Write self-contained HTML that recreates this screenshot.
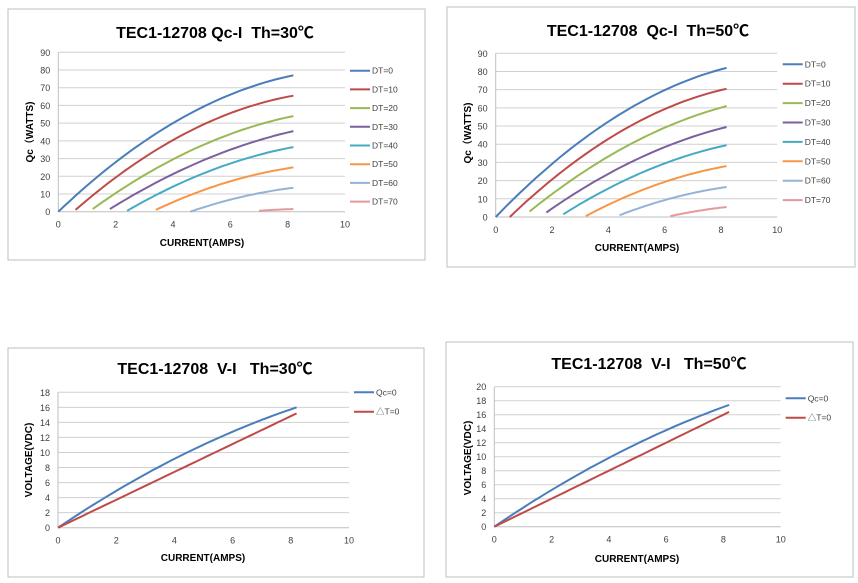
<!DOCTYPE html>
<html><head><meta charset="utf-8"><style>
html,body{margin:0;padding:0;background:#fff;width:858px;height:583px;overflow:hidden}
svg{display:block}
text{font-family:"Liberation Sans","Noto Sans CJK SC",sans-serif}
</style></head><body>
<svg id="s" width="858" height="583" xmlns="http://www.w3.org/2000/svg"></svg>
<script>
const s=document.getElementById('s');let out='';
const C=['#4a7ebb','#be4b48','#98b954','#7d60a0','#46aac5','#f79646','#95b3d7','#e6999a'];
function chart(o){
 out+=`<rect x="${o.bx}" y="${o.by}" width="${o.bw}" height="${o.bh}" fill="#fff" stroke="#bfbfbf" stroke-width="1"/>`;
 out+=`<text x="${o.tx}" y="${o.ty}" font-size="16" font-weight="bold" text-anchor="middle" fill="#000">${o.title}</text>`;
 const X=v=>o.x0+(o.x1-o.x0)*v/10, Y=v=>o.y0-(o.y0-o.y1)*v/o.ymax;
 for(let v=0;v<=o.ymax;v+=o.ystep){
  const y=Y(v);
  if(v>0) out+=`<line x1="${o.x0}" y1="${y}" x2="${o.x1}" y2="${y}" stroke="#d0d0d0" stroke-width="1"/>`;
  out+=`<text x="${o.x0-8}" y="${y+3.5}" font-size="9" text-anchor="end" fill="#404040">${v}</text>`;
 }
 out+=`<line x1="${o.x0}" y1="${o.y0}" x2="${o.x1}" y2="${o.y0}" stroke="#bfbfbf"/>`;
 out+=`<line x1="${o.x0}" y1="${o.y0}" x2="${o.x0}" y2="${o.y1}" stroke="#bfbfbf"/>`;
 for(let v=0;v<=10;v+=2) out+=`<text x="${X(v)}" y="${o.y0+16}" font-size="9" text-anchor="middle" fill="#404040">${v}</text>`;
 out+=`<text x="${o.xlx}" y="${o.xly}" font-size="10" font-weight="bold" text-anchor="middle">CURRENT(AMPS)</text>`;
 out+=`<text transform="translate(${o.ylx},${o.yly}) rotate(-90)" font-size="10" font-weight="bold" text-anchor="middle">${o.ylab}</text>`;
 o.series.forEach((sr,i)=>{
  let p='';
  for(let k=0;k<=40;k++){const I=sr.x0+(8.2-sr.x0)*k/40;const v=sr.f(I);p+=(k?'L':'M')+X(I).toFixed(1)+' '+Y(v).toFixed(1);}
  out+=`<path d="${p}" fill="none" stroke="${sr.c}" stroke-width="2"/>`;
  const ly=o.ly0+o.lstep*i;
  out+=`<line x1="${o.lx}" y1="${ly}" x2="${o.lx+20}" y2="${ly}" stroke="${sr.c}" stroke-width="2"/>`;
  out+=`<text x="${o.lx+22}" y="${ly+3}" font-size="8.5" fill="#404040">${sr.n}</text>`;
 });
}
function qc(x0,y0,ye,b){const d=8.2-x0;const m=(ye-y0-b*d*d)/d;return {x0,f:I=>ye+m*(I-8.2)-b*(I-8.2)*(I-8.2)};}
function mk(specs){return specs.map((a,i)=>{const q=qc(a[0],a[1],a[2],a[3]===undefined?0.74:a[3]);return {x0:q.x0,f:q.f,c:C[i],n:'DT='+(i*10)};});}
chart({bx:8,by:9,bw:417,bh:251,tx:215,ty:38,title:'TEC1-12708 Qc-I&#160; Th=30℃',x0:58.3,x1:345,y0:211.7,y1:52.3,ymax:90,ystep:10,
 xlx:202,xly:246,ylx:33,yly:132,ylab:'Qc（WATTS)',lx:350,ly0:70.7,lstep:18.7,
 series:mk([[0,0,77],[0.6,1,65.5],[1.2,1.5,54,0.6],[1.8,1.5,45.5,0.5],[2.4,0.5,36.5,0.55],[3.4,1,25,0.55],[4.6,0,13.5,0.5],[7,0.5,1.5,0.3]])});
chart({bx:447,by:7,bw:408,bh:260,tx:648,ty:36,title:'TEC1-12708&#160; Qc-I&#160; Th=50℃',x0:495.7,x1:777.3,y0:217,y1:53.3,ymax:90,ystep:10,
 xlx:637,xly:251,ylx:471,yly:133,ylab:'Qc（WATTS)',lx:782.7,ly0:64.3,lstep:19.4,
 series:mk([[0,0,82],[0.5,0,70.5],[1.2,3,61,0.6],[1.8,2.5,49.5,0.55],[2.4,1.5,39.5,0.55],[3.2,0.5,28,0.55],[4.4,1,16.5,0.5],[6.2,0.5,5.5,0.4]])});
function vi(ye,bend){return I=>ye*I/8.2+bend*I*(8.2-I);}
chart({bx:8,by:348,bw:416,bh:229,tx:215,ty:374,title:'TEC1-12708&#160; V-I&#160;&#160; Th=30℃',x0:58,x1:349,y0:527.7,y1:392.3,ymax:18,ystep:2,
 xlx:203,xly:561,ylx:32,yly:460,ylab:'VOLTAGE(VDC)',lx:354,ly0:392.3,lstep:19.4,
 series:[{x0:0,f:vi(16,0.08),c:C[0],n:'Qc=0'},{x0:0,f:vi(15.2,0),c:C[1],n:'△T=0'}]});
chart({bx:446,by:342,bw:407,bh:235,tx:649,ty:369,title:'TEC1-12708&#160; V-I&#160;&#160; Th=50℃',x0:494.3,x1:780.7,y0:526.7,y1:386.7,ymax:20,ystep:2,
 xlx:637,xly:562,ylx:471,yly:458,ylab:'VOLTAGE(VDC)',lx:785.7,ly0:398.3,lstep:19.4,
 series:[{x0:0,f:vi(17.4,0.08),c:C[0],n:'Qc=0'},{x0:0,f:vi(16.4,0),c:C[1],n:'△T=0'}]});
s.innerHTML=out;
</script>
</body></html>
